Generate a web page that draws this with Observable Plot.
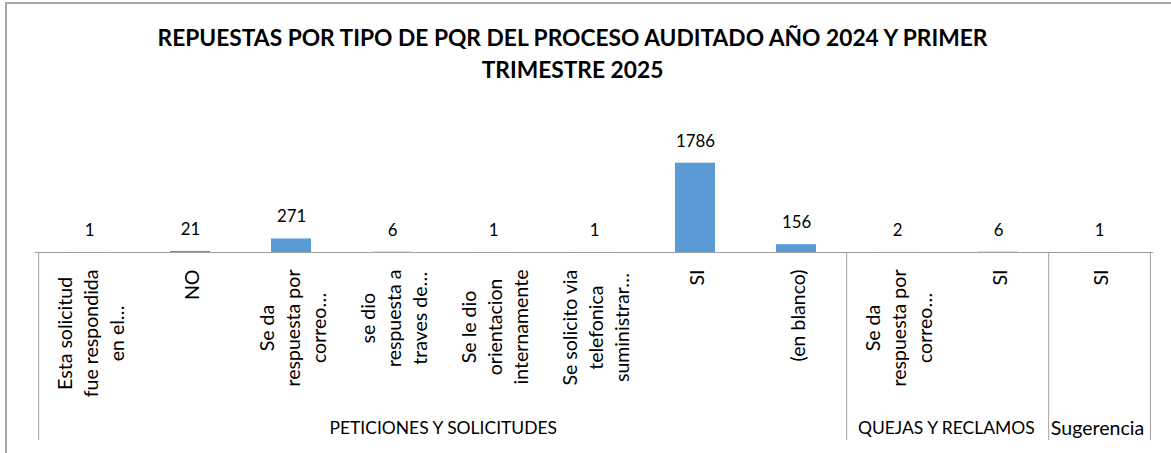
<!DOCTYPE html>
<html><head><meta charset="utf-8">
<script src="https://cdn.jsdelivr.net/npm/d3@7"></script>
<script src="https://cdn.jsdelivr.net/npm/@observablehq/plot@0.6"></script>
<style>
html,body{margin:0;padding:0;background:#fff;overflow:hidden}
#wrap{position:relative;width:1171px;height:453px;overflow:hidden;font-family:Lato,sans-serif}
#frame{position:absolute;left:5px;top:2px;width:1300px;height:600px;border-left:2px solid #a6a6a6;border-top:2px solid #a6a6a6;box-sizing:border-box}
#title{position:absolute;left:0;top:22px;width:1145px;text-align:center;font-weight:bold;font-size:21px;line-height:32px;color:#000;white-space:nowrap}
#chart{position:absolute;left:0;top:100px}
</style>
</head><body>
<div id="wrap">
  <div id="frame"></div>
  <div id="title"><span id="t1">REPUESTAS POR TIPO DE PQR DEL PROCESO AUDITADO AÑO 2024 Y PRIMER</span><br><span id="t2">TRIMESTRE 2025</span></div>
  <div id="chart"></div>
</div>
<script>
// ---- data ----
const categories = [
  "Esta solicitud\nfue respondida\nen el…",
  "NO",
  "Se da\nrespuesta por\ncorreo…",
  "se dio\nrespuesta a\ntraves de…",
  "Se le dio\norientacion\ninternamente",
  "Se solicito via\ntelefonica\nsuministrar…",
  "SI",
  "(en blanco)",
  "Se da\nrespuesta por\ncorreo…",
  "SI",
  "SI"
];
const groups = [
  "PETICIONES Y SOLICITUDES","PETICIONES Y SOLICITUDES","PETICIONES Y SOLICITUDES","PETICIONES Y SOLICITUDES",
  "PETICIONES Y SOLICITUDES","PETICIONES Y SOLICITUDES","PETICIONES Y SOLICITUDES","PETICIONES Y SOLICITUDES",
  "QUEJAS Y RECLAMOS","QUEJAS Y RECLAMOS",
  "Sugerencia"
];
const values = [1, 21, 271, 6, 1, 1, 1786, 156, 2, 6, 1];

// ---- font sizing (fit text widths to the reference look) ----
const font = "Lato";
const ctx = document.createElement("canvas").getContext("2d");
function fitSize(text, target, weight) {
  ctx.font = `${weight || "normal"} 100px ${font}`;
  return 100 * target / ctx.measureText(text).width;
}
function measure(text, size, weight) {
  ctx.font = `${weight || "normal"} ${size}px ${font}`;
  return ctx.measureText(text).width;
}
const fsCat = fitSize("(en blanco)", 92);
const fsVal = fitSize("1786", 39);
const fsGrp = fitSize("PETICIONES Y SOLICITUDES", 229);
const fsTitle = fitSize("REPUESTAS POR TIPO DE PQR DEL PROCESO AUDITADO AÑO 2024 Y PRIMER", 835, "bold");
document.getElementById("title").style.fontSize = fsTitle + "px";

// ---- build ----
const keys = categories.map((_, i) => i);
const data = keys.map(i => ({key: i, label: categories[i], group: groups[i], value: values[i]}));

const W = 1171, H = 353, mL = 35, mR = 18, mT = 52, mB = 201;
const step = (W - mL - mR) / keys.length;
const lineGap = 26;

const labelMarks = data.map(d => {
  const lines = d.label.split("\n");
  const maxW = d3.max(lines, s => measure(s, fsCat));
  return Plot.text([d], {
    x: "key", y: () => 0, text: "label", rotate: -90,
    textAnchor: "middle", lineAnchor: "middle", lineHeight: lineGap / fsCat,
    dy: 17 + maxW / 2, fontSize: fsCat, fontFamily: font, fill: "#000"
  });
});

const groupList = [];
data.forEach(d => {
  const g = groupList.find(g => g.name === d.group);
  if (g) { g.last = d.key; g.count++; } else groupList.push({name: d.group, first: d.key, last: d.key, count: 1});
});

const groupMarks = groupList.map(g => Plot.text([g], {
  x: "first", y: () => 0, text: "name", dx: (g.count - 1) / 2 * step - 2, dy: 176,
  fontSize: g.name === g.name.toUpperCase() ? fsGrp : fsCat, fontFamily: font, fill: "#000"
}));

const sepMarks = groupList.map(g => Plot.ruleX([g], {
  x: "first", y1: () => 0, y2: () => 0, dx: -step / 2, insetBottom: -188, stroke: "#a0a0a0", strokeWidth: 1
}));
sepMarks.push(Plot.ruleX([groupList[groupList.length - 1]], {
  x: "last", y1: () => 0, y2: () => 0, dx: step / 2, insetBottom: -188, stroke: "#a0a0a0", strokeWidth: 1
}));

const chart = Plot.plot({
  width: W, height: H,
  marginLeft: mL, marginRight: mR, marginTop: mT, marginBottom: mB,
  style: {background: "none", fontFamily: font},
  x: {domain: keys, paddingInner: 0.6, paddingOuter: 0.3, axis: null},
  y: {domain: [0, 2000], axis: null},
  marks: [
    Plot.barY(data, {x: "key", y: "value", fill: "#5B9BD5"}),
    Plot.ruleY([0], {stroke: "#a0a0a0"}),
    ...sepMarks,
    Plot.text(data, {x: "key", y: "value", text: d => String(d.value), dy: -22, fontSize: fsVal, fontFamily: font, fill: "#000"}),
    ...labelMarks,
    ...groupMarks
  ]
});
document.getElementById("chart").appendChild(chart);
</script>
</body></html>
